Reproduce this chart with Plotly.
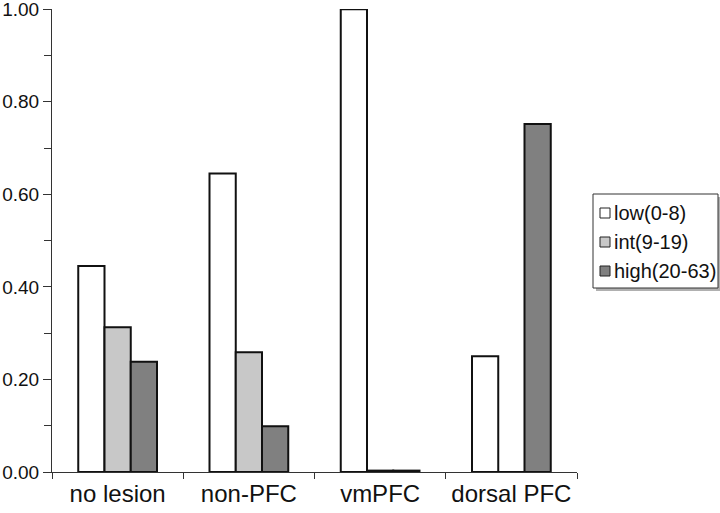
import plotly.graph_objects as go

categories = ["no lesion", "non-PFC", "vmPFC", "dorsal PFC"]
series_names = ["low(0-8)", "int(9-19)", "high(20-63)"]
low_vals = [0.445, 0.645, 1.00, 0.25]
int_vals = [0.313, 0.259, 0.003, 0.0]
high_vals = [0.238, 0.099, 0.003, 0.752]
colors = ["#ffffff", "#c8c8c8", "#808080"]
y_ticks = [0.0, 0.2, 0.4, 0.6, 0.8, 1.0]
y_tick_labels = ["0.00", "0.20", "0.40", "0.60", "0.80", "1.00"]

font = "Liberation Sans, Arial, sans-serif"

fig = go.Figure()
for name, vals, col in zip(series_names, [low_vals, int_vals, high_vals], colors):
    fig.add_trace(go.Bar(
        x=categories, y=vals, name=name, showlegend=False,
        marker=dict(color=col, line=dict(color="#111111", width=2)),
    ))

# Plot area in screen pixels
PX0, PX1, PY0, PY1 = 52, 577, 9, 472
W, H = 720, 513
def px(X):
    return (X - PX0) / (PX1 - PX0)
def py(Y):
    return (PY1 - Y) / (PY1 - PY0)

shapes = []
annotations = []
# legend box with soft shadow
shapes.append(dict(type="rect", xref="paper", yref="paper",
                   x0=px(596), x1=px(720), y0=py(291), y1=py(197),
                   line=dict(width=0), fillcolor="#b0b0b0", layer="above"))
shapes.append(dict(type="rect", xref="paper", yref="paper",
                   x0=px(593), x1=px(718), y0=py(288), y1=py(194),
                   line=dict(color="#333333", width=1), fillcolor="white", layer="above"))
row_y = [213, 242, 271]
for name, col, ry in zip(series_names, colors, row_y):
    shapes.append(dict(type="rect", xref="paper", yref="paper",
                       x0=px(600), x1=px(610), y0=py(ry + 5), y1=py(ry - 5),
                       line=dict(color="#222222", width=1), fillcolor=col, layer="above"))
    annotations.append(dict(text=name, xref="paper", yref="paper",
                            x=px(612), y=py(ry), xanchor="left", yanchor="middle",
                            showarrow=False, font=dict(size=20, family=font, color="#111111")))

fig.update_layout(
    width=W, height=H,
    margin=dict(l=PX0, r=W - PX1, t=PY0, b=H - PY1),
    paper_bgcolor="white", plot_bgcolor="white",
    barmode="group", bargap=0.40, bargroupgap=0,
    font=dict(family=font, color="#111111"),
    showlegend=False,
    shapes=shapes, annotations=annotations,
    xaxis=dict(
        automargin=False, tickangle=0,
        showline=True, linecolor="#333333", linewidth=1,
        ticks="outside", tickson="boundaries", ticklen=6, tickcolor="#333333",
        tickfont=dict(size=24, family=font),
        ticklabeloverflow="allow",
        showgrid=False, zeroline=False,
    ),
    yaxis=dict(
        automargin=False,
        range=[0, 1.0005], showline=True, linecolor="#333333", linewidth=1,
        tickvals=y_ticks, ticktext=y_tick_labels,
        ticks="outside", ticklen=8, tickcolor="#333333",
        tickfont=dict(size=19, family=font),
        ticklabeloverflow="allow",
        minor=dict(dtick=0.1, ticks="outside", ticklen=7, tickcolor="#333333", showgrid=False),
        showgrid=False, zeroline=False,
    ),
)
fig.write_html("out.html", config={"displayModeBar": False},
               post_script="document.body.style.margin='0';document.body.style.overflow='hidden';")
